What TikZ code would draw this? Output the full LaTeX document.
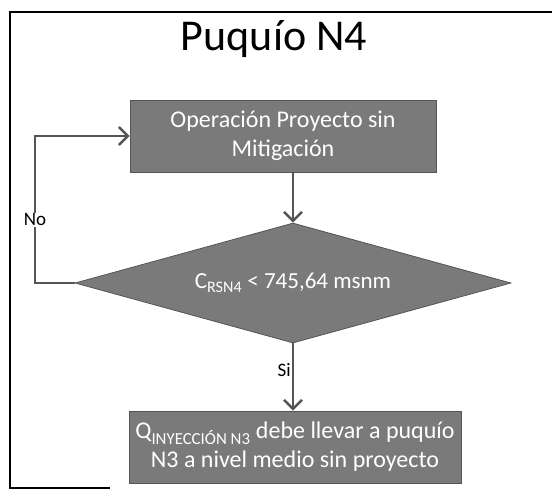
\documentclass[tikz,border=0pt]{standalone}
\usepackage{fontspec}
\setmainfont{Carlito}
\usepackage{tikz}
\usetikzlibrary{shapes.geometric, arrows.meta, positioning}
\definecolor{boxgray}{RGB}{122, 122, 122}
\definecolor{linegray}{RGB}{85, 85, 85}

\begin{document}
\begin{tikzpicture}[
        x=1pt, y=-1pt,
        process/.style={rectangle, draw=linegray, fill=boxgray, thick, align=center, inner sep=2pt, font=\fontsize{24}{29}\selectfont, text=white},
        decision/.style={diamond, draw=linegray, fill=boxgray, thick, aspect=3.6, inner sep=1pt, minimum width=436pt, minimum height=120pt, font=\fontsize{23}{27}\selectfont, text=white},
        arrow/.style={-{Straight Barb[length=9pt, width=18pt, line width=2.5pt]}, line width=2.5pt, draw=linegray},
        lbl/.style={font=\fontsize{19}{21}\selectfont, fill=white, inner sep=1pt}
    ]
        \useasboundingbox (0,0) rectangle (552,491);
        % frame
        \draw[line width=1.5pt] (110,488) -- (10,488) -- (10,12) -- (552,12);

        \node[font=\fontsize{44}{50}\selectfont] (title) at (274,39) {Puquío N4};
        \node[process, minimum width=306pt, minimum height=72pt] (oper) at (283,136) {Operación Proyecto sin\\Mitigación};
        \node[decision] (cota) at (293,283) {C\textsubscript{RSN4} < 745,64 msnm};
        \node[process, minimum width=332pt, minimum height=72pt] (iny) at (295,447) {Q\textsubscript{INYECCIÓN N3} debe llevar a puquío\\N3 a nivel medio sin proyecto};

        \draw[arrow] (oper.south -| cota.north) -- (cota.north);
        \draw[arrow] (cota.south) -- node[lbl, left, pos=0.4, fill=none] {Si} (cota.south |- iny.north);
        \draw[arrow] (cota.west) -- (35,283) |- node[lbl, pos=0.215] {No} (oper.west);
    \end{tikzpicture}
\end{document}
